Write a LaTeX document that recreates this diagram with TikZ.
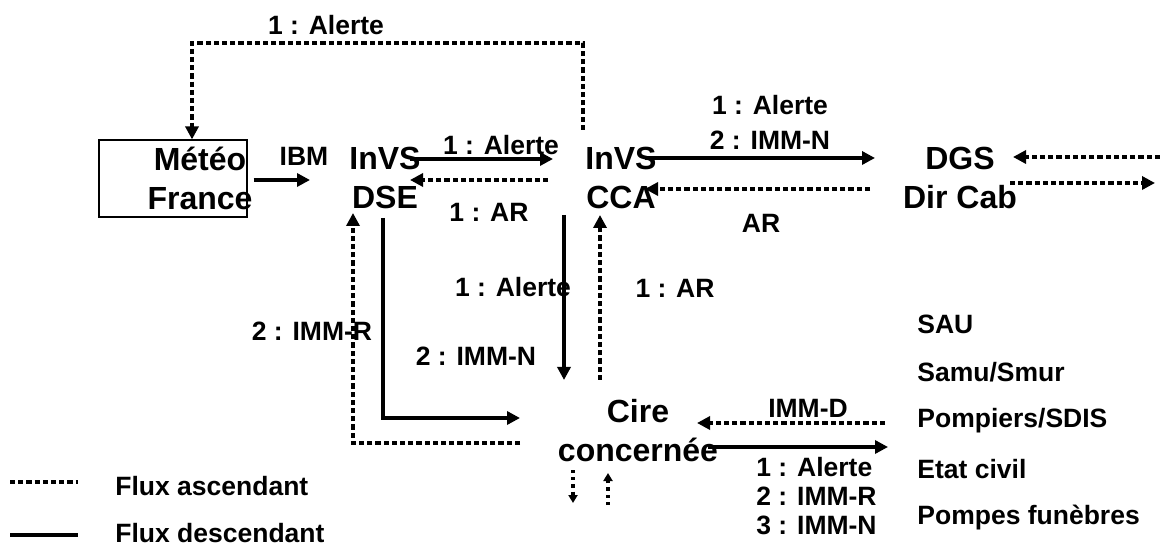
\documentclass[tikz,border=0pt]{standalone}
\usepackage{fontspec}
\setmainfont{Liberation Sans}
\usetikzlibrary{arrows.meta}
\tikzset{
  gros/.style={font=\fontsize{16}{19.5}\selectfont\bfseries, align=center, inner sep=0pt},
  lbl/.style={font=\fontsize{13.25}{14.5}\selectfont\bfseries, inner sep=0pt},
  desc/.style={-{Triangle[length=6.5pt,width=6.5pt]}, line width=2.4pt},
  asc/.style={desc, dash pattern=on 2.6pt off 1.5pt},
  petit/.style={-{Triangle[length=4pt,width=4.5pt]}, line width=1.6pt, dash pattern=on 1.6pt off 2pt},
}

\begin{document}
\begin{tikzpicture}[x=0.5pt,y=-0.5pt]
  \useasboundingbox (0,0) rectangle (1160,549);
  % acteurs
  \node[draw,line width=0.6pt,minimum width=74pt,minimum height=38.5pt,inner sep=0pt] (cadre) at (173,178.5) {};
  \node[gros] (meteo) at (200,178) {Météo\\France};
  \node[gros] (dse) at (385,178) {InVS\\DSE};
  \node[gros] (cca) at (621,178) {InVS\\CCA};
  \node[gros] (dgs) at (960,178) {DGS\\Dir Cab};
  \node[gros] (cire) at (638,431) {Cire\\concernée};
  \foreach \t [count=\i] in {SAU,Samu/Smur,Pompiers/SDIS,Etat civil,Pompes funèbres}
    \node[lbl,anchor=west] (act\i) at (917,{324+48.5*(\i-1)}) {\t};
  \coordinate (bordA) at (1160,157);
  \coordinate (bordB) at (1155,183);
  % flux du haut
  \draw[desc] ([shift={(6,1.5)}]cadre.east) -- ([shift={(-75,2)}]dse.center);
  \node[lbl] (ibm) at (304,156) {IBM};
  \draw[desc] ([shift={(25,-19)}]dse.center) -- ([shift={(-68,-19)}]cca.center);
  \node[lbl] (al1) at (501,145) {1 : Alerte};
  \draw[asc] ([shift={(-73,2)}]cca.center) -- ([shift={(25,2)}]dse.center);
  \node[lbl] (ar1) at (489,212) {1 : AR};
  \draw[desc] ([shift={(24,-20)}]cca.center) -- ([shift={(-85,-20)}]dgs.center);
  \node[lbl] (al2) at (770,126) {\begin{tabular}{@{}c@{}}1 : Alerte\\[3pt]2 : IMM-N\end{tabular}};
  \draw[asc] ([shift={(-90,11)}]dgs.center) -- ([shift={(24,11)}]cca.center);
  \node[lbl] (ar2) at (761,223) {AR};
  \draw[asc] (bordA) -- ([shift={(53,-21)}]dgs.center);
  \draw[asc] ([shift={(50,5)}]dgs.center) -- (bordB);
  \draw[asc] ([shift={(-38,-48)}]cca.center) -- ++(0,-87) -| ([xshift=9.5pt]cadre.north);
  \node[lbl] (al0) at (326,25) {1 : Alerte};
  % flux vers la Cire
  \draw[desc] ([shift={(-2,40)}]dse.center) |- ([shift={(-118,-13)}]cire.center);
  \draw[asc] ([shift={(-118,12)}]cire.center) -| ([shift={(-32,35)}]dse.center);
  \node[lbl] (immr) at (312,331) {2 : IMM-R};
  \draw[desc] ([shift={(-57,37)}]cca.center) -- ([shift={(-74,-51)}]cire.center);
  \node[lbl] (al3) at (513,287) {1 : Alerte};
  \node[lbl] (immn) at (476,356) {2 : IMM-N};
  \draw[asc] ([shift={(-38,-51)}]cire.center) -- ([shift={(-21,37)}]cca.center);
  \node[lbl] (ar3) at (675,288) {1 : AR};
  % flux Cire / partenaires
  \draw[asc] ([shift={(-32,2)}]act3.west) -- ([shift={(59,-8)}]cire.center);
  \node[lbl] (immd) at (808,408) {IMM-D};
  \draw[desc] ([shift={(70,16)}]cire.center) -- ([shift={(-29,26)}]act3.west);
  \node[lbl,anchor=west,align=left] (liste) at (756,496) {1 : Alerte\\2 : IMM-R\\3 : IMM-N};
  \draw[petit] ([shift={(-65,39)}]cire.center) -- ++(0,33);
  \draw[petit] ([shift={(-30,74)}]cire.center) -- ++(0,-32);
  % legende
  \node[lbl,anchor=west] (legA) at (115,486) {Flux ascendant};
  \node[lbl,anchor=west] (legD) at (115,533) {Flux descendant};
  \draw[asc,-] ([shift={(-105,-4)}]legA.west) -- ++(68,0);
  \draw[desc,-] ([shift={(-105,2)}]legD.west) -- ++(68,0);
\end{tikzpicture}
\end{document}
